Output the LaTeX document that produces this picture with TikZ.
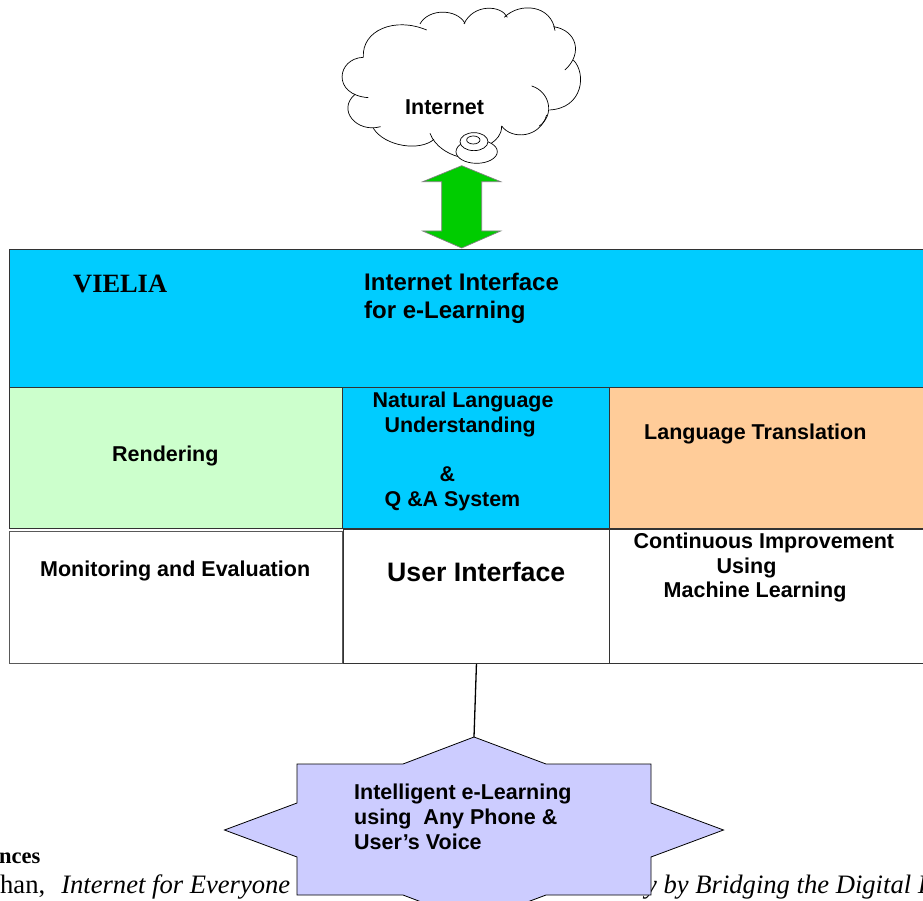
\documentclass[tikz,border=0pt]{standalone}
\usepackage{fontspec}
\setmainfont{Liberation Sans}
\newfontfamily\timesf{Liberation Serif}
\definecolor{skyb}{HTML}{00CCFF}
\definecolor{mint}{HTML}{CCFFCC}
\definecolor{peach}{HTML}{FFCC99}
\definecolor{lilac}{HTML}{CCCCFF}
\definecolor{arrowg}{HTML}{00CC00}
\definecolor{edgeg}{HTML}{333333}
\tikzset{
 panel/.style={draw=edgeg,line width=0.9pt,inner sep=0pt,anchor=north west},
 lab/.style={inner sep=0pt,anchor=north west,align=left,font=\fontsize{21.5}{24.5}\selectfont\bfseries},
 bigl/.style={lab,font=\fontsize{24}{28}\selectfont\bfseries},
 refl/.style={inner sep=0pt,anchor=base west,font=\timesf\fontsize{26.6}{28}\selectfont},
 cloudl/.style={line width=0.7pt,black}
}
\begin{document}
\begin{tikzpicture}[x=1pt,y=-1pt]
\clip (0,0) rectangle (923,901);
\fill[white] (0,0) rectangle (923,901);
% page text behind the star
\node[refl,font=\timesf\fontsize{22.5}{26}\selectfont\bfseries] (refhead) at (-1,863) {nces};
\node[refl] (refa) at (0,893) {han,\hspace{16pt}\textit{Internet for Everyone}};
\node[refl,font=\timesf\fontsize{26.6}{28}\selectfont\itshape] (refb) at (645,893) {y by Bridging the Digital I};
% cloud
\begin{scope}[shift={(320,0)},x=0.3333pt,y=-0.3333pt,cloudl]
\fill[white] (130,172) -- (320,88) -- (560,50) -- (705,90) -- (760,180) -- (690,330) -- (545,380) -- (420,470) -- (160,385) -- (100,285) -- cycle;
\draw (130,172) .. controls (125,90) and (225,50) .. (320,90);
\draw (300,72) .. controls (325,25) and (410,25) .. (435,70);
\draw (432,72) .. controls (460,10) and (545,15) .. (562,52);
\draw (553,52) .. controls (600,5) and (695,15) .. (705,92);
\draw (700,80) .. controls (770,90) and (790,160) .. (735,210);
\draw (760,180) .. controls (800,220) and (790,325) .. (688,330);
\draw (635,258) .. controls (690,275) and (705,345) .. (658,378);
\draw (680,345) .. controls (660,415) and (575,420) .. (545,378);
\draw (545,378) .. controls (545,405) and (530,420) .. (510,432);
\draw (330,400) .. controls (345,440) and (385,462) .. (415,470);
\draw (160,385) .. controls (195,440) and (300,455) .. (342,418);
\draw (182,380) .. controls (110,400) and (50,330) .. (105,283);
\draw (130,172) .. controls (50,175) and (35,285) .. (145,293);
\filldraw[fill=white] (470,455) ellipse [x radius=62,y radius=35];
\filldraw[fill=white] (462,425) ellipse [x radius=42,y radius=27];
\draw (460,420) ellipse [x radius=20,y radius=12];
\end{scope}
\node[lab] (inet) at (405,100) {Internet};
% double arrow
\filldraw[fill=arrowg,draw=gray,line width=0.7pt] (461.7,165.7) -- (500.7,181.7) -- (481.7,181.7) -- (481.7,231) -- (500.7,231) -- (461.7,248) -- (422.7,231) -- (441.7,231) -- (441.7,181.7) -- (422.7,181.7) -- cycle;
% panels
\node[panel,fill=skyb,minimum width=930pt,minimum height=138pt] (top) at (9,249) {};
\node[panel,fill=mint,minimum width=333pt,minimum height=141pt] (rend) at (9,387) {};
\node[panel,fill=skyb,minimum width=267pt,minimum height=141pt] (nlu) at (342,387) {};
\node[panel,fill=peach,minimum width=330pt,minimum height=141pt] (lang) at (609,387) {};
\node[panel,fill=white,minimum width=333pt,minimum height=132pt,line width=1.1pt,draw=gray!70!black] (mon) at (9,531) {};
\node[panel,fill=white,minimum width=267pt,minimum height=134pt] (ui) at (342.5,529) {};
\node[panel,fill=white,minimum width=330pt,minimum height=134pt] (cont) at (609,529) {};
\node[inner sep=0pt,anchor=north west,font=\timesf\fontsize{26.4}{28}\selectfont\bfseries] (vielia) at (73,275) {VIELIA};
\node[bigl] (iface) at (364,273) {Internet Interface\\for e-Learning};
\node[lab] (rendt) at (112,446) {Rendering};
\node[lab,font=\fontsize{21.4}{24.7}\selectfont\bfseries] (nlut) at (372.5,392) {Natural Language\\\hspace*{12pt}Understanding\\ \\\hspace*{67pt}\&\\\hspace*{12pt}Q \&A System};
\node[lab] (langt) at (644,424) {Language Translation};
\node[lab] (mont) at (40,561) {Monitoring and Evaluation};
\node[lab,font=\fontsize{26.7}{30}\selectfont\bfseries] (uit) at (387,562) {User Interface};
\node[lab] (contt) at (633.5,533) {Continuous Improvement\\\hspace*{83pt}Using\\\hspace*{30pt}Machine Learning};
% star
\filldraw[fill=lilac,draw=black,line width=0.8pt] (474,737) -- (546,764) -- (651,764) -- (651,803) -- (723.5,830) -- (651,857) -- (651,895) -- (546,895) -- (474,922) -- (403,895) -- (297,895) -- (297,857) -- (224.5,830) -- (297,803) -- (297,764) -- (403,764) -- cycle;
\coordinate (startip) at (474,737);
\draw[line width=1.3pt,black] (ui.south) -- (startip);
\node[lab,font=\fontsize{21.5}{25}\selectfont\bfseries] (start) at (354,784) {Intelligent e-Learning\\using\ \ Any Phone \&\\User’s Voice};
\end{tikzpicture}
\end{document}
